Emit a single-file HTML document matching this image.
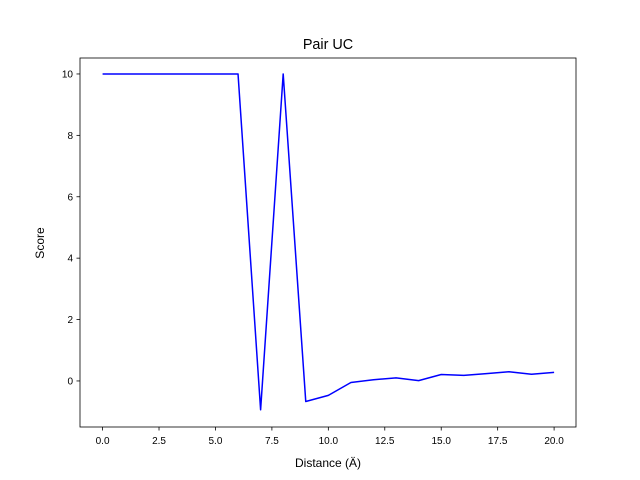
<!DOCTYPE html>
<html><head><meta charset="utf-8"><style>
body{margin:0;background:#fff;}
svg{display:block;font-family:"Liberation Sans","DejaVu Sans",sans-serif;}
</style></head><body>
<svg id="chart" width="640" height="480">
<rect width="640" height="480" fill="#fff"/>
<text x="328" y="49" text-anchor="middle" font-size="14.4">Pair UC</text>
<g id="plot"></g>
<rect x="80" y="58" width="496" height="369" fill="none" stroke="#000" stroke-width="0.8"/>
<text x="328" y="467" text-anchor="middle" font-size="12">Distance (Ä)</text>
<text x="44" y="243" text-anchor="middle" font-size="12" transform="rotate(-90 44 243)">Score</text>
</svg>
<script>
const distances=[0,1,2,3,4,5,6,7,8,9,10,11,12,13,14,15,16,17,18,19,20];
const scores=[10,10,10,10,10,10,10,-0.94,10,-0.67,-0.47,-0.05,0.04,0.1,0.01,0.21,0.18,0.24,0.3,0.22,0.28];
const xTicks=[0,2.5,5,7.5,10,12.5,15,17.5,20];
const xTickLabels=["0.0","2.5","5.0","7.5","10.0","12.5","15.0","17.5","20.0"];
const yTicks=[0,2,4,6,8,10];
const yTickLabels=["0","2","4","6","8","10"];
const X0=80,X1=576,Y0=58,Y1=427,xmin=-1,xmax=20.97,ymin=-1.5,ymax=10.52;
function sx(v){return X0+(v-xmin)/(xmax-xmin)*(X1-X0);}
function sy(v){return Y1-(v-ymin)/(ymax-ymin)*(Y1-Y0);}
const NS="http://www.w3.org/2000/svg";
const g=document.getElementById('plot');
function mk(t,a){const e=document.createElementNS(NS,t);for(const k in a)e.setAttribute(k,a[k]);g.appendChild(e);return e;}
xTicks.forEach((v,i)=>{
 const l=mk('line',{x1:sx(v),x2:sx(v),y1:Y1,y2:Y1+3.5,stroke:'#000','stroke-width':0.8});
 
 
 const t=mk('text',{x:sx(v),y:Y1+17,'text-anchor':'middle','font-size':10});
 t.textContent=xTickLabels[i];
 
 
});
yTicks.forEach((v,i)=>{
 const l=mk('line',{x1:X0-3.5,x2:X0,y1:sy(v),y2:sy(v),stroke:'#000','stroke-width':0.8});
 
 
 const t=mk('text',{x:X0-7,y:sy(v)+3.5,'text-anchor':'end','font-size':10});
 t.textContent=yTickLabels[i];
 
 
});
const pts=distances.map((d,i)=>sx(d).toFixed(2)+','+sy(scores[i]).toFixed(2)).join(' ');
const line=mk('polyline',{points:pts,fill:'none',stroke:'#0000ff','stroke-width':1.5,'stroke-linejoin':'round'});


</script>
</body></html>
